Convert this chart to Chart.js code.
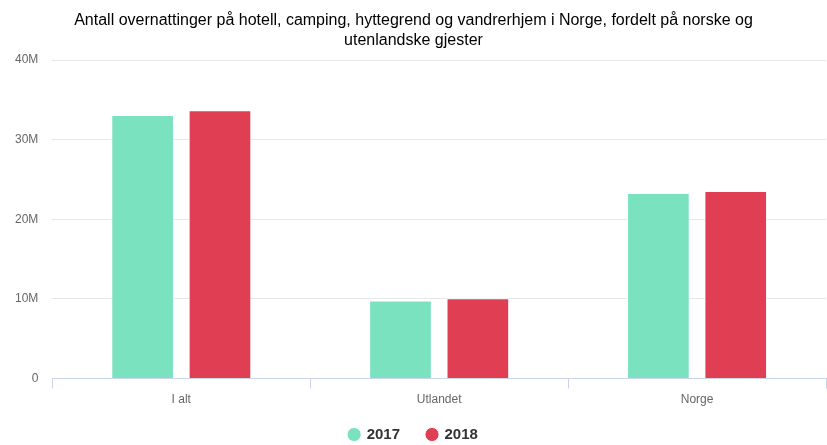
<!DOCTYPE html>
<html>
<head>
<meta charset="utf-8">
<script src="https://cdn.jsdelivr.net/npm/chart.js@4"></script>
<style>
  html, body { margin: 0; padding: 0; background: #fff; }
  #wrap { width: 827px; height: 445px; }
</style>
</head>
<body>
<div id="wrap"><canvas id="myChart" width="827" height="445"></canvas></div>
<script>
// categories and series
const categories = ["I alt", "Utlandet", "Norge"];
const years = ["2017", "2018"];
const values2017 = [33100000, 9800000, 23300000];
const values2018 = [33700000, 10100000, 23550000];
const yTicks = [0, 10000000, 20000000, 30000000, 40000000];

// colors per series
const COLORS = ["#7ae2bf", "#e03e53"];

window.onload = function () {
    const ctx = document.getElementById("myChart").getContext("2d");
    const series = [values2017, values2018];
    const datasets = years.map((y, i) => ({
        label: y,
        data: series[i],
        backgroundColor: COLORS[i],
        borderColor: "#ffffff",
        borderWidth: 1,
        categoryPercentage: 0.6,
        barPercentage: 0.81,
    }));
    window.graph = new Chart(ctx, {
        type: "bar",
        data: { labels: categories, datasets: datasets },
        options: {
            responsive: false,
            animation: false,
            layout: { padding: { left: 1, right: 1, top: 7, bottom: -7 } },
            plugins: {
                title: {
                    display: true,
                    text: [
                        "Antall overnattinger på hotell, camping, hyttegrend og vandrerhjem i Norge, fordelt på norske og",
                        "utenlandske gjester",
                    ],
                    color: "#000",
                    font: { family: "Liberation Sans, Arial, sans-serif", size: 16, weight: "normal", lineHeight: 1.22 },
                    padding: { top: 4, bottom: 10 },
                },
                legend: {
                    position: "bottom",
                    labels: {
                        usePointStyle: true,
                        pointStyle: "circle",
                        boxWidth: 10,
                        boxHeight: 10,
                        padding: 27,
                        color: "#333",
                        font: { family: "Liberation Sans, Arial, sans-serif", size: 15, weight: "bold" },
                    },
                },
                tooltip: { enabled: false },
            },
            scales: {
                x: {
                    afterFit: (axis) => {
                        // let the legend padding overlap the axis box, and don't clip the labels to it
                        axis.height -= 11;
                        axis._computeLabelArea = () => undefined;
                    },
                    grid: {
                        offset: true,
                        drawOnChartArea: false,
                        color: "#ccd6eb",
                        tickLength: 10,
                    },
                    border: { color: "#ccd6eb" },
                    ticks: {
                        color: "#666",
                        padding: 4,
                        font: { family: "Liberation Sans, Arial, sans-serif", size: 12 },
                    },
                },
                y: {
                    min: 0,
                    max: 40000000,
                    afterBuildTicks: (axis) => {
                        axis.ticks = yTicks.map((v) => ({ value: v }));
                    },
                    grid: { color: "#e6e6e6", drawTicks: false },
                    border: { display: false },
                    ticks: {
                        color: "#666",
                        padding: 14,
                        font: { family: "Liberation Sans, Arial, sans-serif", size: 12 },
                        callback: (v) => (v === 0 ? "0" : v / 1000000 + "M"),
                    },
                },
            },
        },
    });
};
</script>
</body>
</html>
